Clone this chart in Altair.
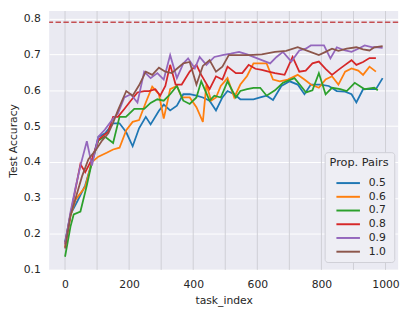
import altair as alt
import pandas as pd

series_names = ["0.5", "0.6", "0.7", "0.8", "0.9", "1.0"]
colors = ["#1f77b4", "#ff7f0e", "#2ca02c", "#d62728", "#9467bd", "#8c564b"]

x_05 = [0, 17, 38, 63, 84, 104, 125, 150, 170, 191, 211, 231, 252, 267, 293, 308, 328, 349, 369, 389, 410, 430, 451, 471, 491, 507, 528, 547, 568, 588, 609, 629, 649, 675, 701, 726, 747, 767, 797, 823, 848, 874, 894, 909, 930, 950, 970, 991]
y_05 = [0.177, 0.254, 0.29, 0.335, 0.40, 0.47, 0.48, 0.508, 0.508, 0.483, 0.444, 0.494, 0.526, 0.505, 0.543, 0.56, 0.544, 0.557, 0.589, 0.589, 0.585, 0.58, 0.571, 0.544, 0.58, 0.598, 0.589, 0.575, 0.575, 0.575, 0.58, 0.585, 0.573, 0.612, 0.625, 0.616, 0.589, 0.616, 0.616, 0.612, 0.598, 0.596, 0.589, 0.566, 0.603, 0.603, 0.603, 0.634]
ci_05 = [0, 0.01, 0, 0, 0, 0, 0, 0, 0, 0, 0, 0.04, 0.045, 0.045, 0.04, 0.04, 0.04, 0.03, 0, 0, 0, 0, 0, 0, 0.02, 0.02, 0.02, 0.02, 0, 0, 0, 0, 0, 0, 0, 0, 0, 0, 0, 0, 0.015, 0.015, 0, 0, 0.02, 0.02, 0, 0]

x_06 = [0, 17, 33, 63, 84, 104, 130, 150, 170, 191, 211, 231, 252, 272, 293, 308, 328, 349, 364, 389, 410, 430, 441, 456, 471, 486, 507, 528, 547, 568, 588, 609, 629, 649, 670, 695, 726, 747, 767, 792, 813, 833, 853, 874, 894, 915, 930, 950, 970]
y_06 = [0.163, 0.25, 0.295, 0.331, 0.40, 0.415, 0.426, 0.435, 0.44, 0.489, 0.512, 0.517, 0.566, 0.61, 0.589, 0.521, 0.603, 0.612, 0.58, 0.58, 0.553, 0.512, 0.616, 0.571, 0.58, 0.612, 0.634, 0.58, 0.616, 0.64, 0.675, 0.675, 0.675, 0.63, 0.625, 0.63, 0.643, 0.63, 0.616, 0.607, 0.63, 0.639, 0.616, 0.652, 0.661, 0.655, 0.643, 0.666, 0.652]
ci_06 = [0, 0, 0, 0, 0, 0.03, 0.03, 0, 0, 0, 0, 0.015, 0, 0, 0, 0, 0, 0, 0, 0, 0, 0, 0, 0, 0, 0, 0, 0, 0, 0.02, 0.02, 0.01, 0, 0, 0, 0.03, 0.02, 0, 0, 0, 0, 0.02, 0.02, 0, 0, 0.015, 0.015, 0.01, 0]

x_07 = [0, 17, 27, 48, 68, 84, 104, 124, 150, 170, 190, 216, 247, 267, 288, 308, 328, 349, 369, 389, 410, 425, 451, 466, 486, 507, 533, 547, 568, 588, 609, 629, 655, 680, 716, 736, 752, 772, 792, 813, 833, 859, 879, 904, 935, 965, 976]
y_07 = [0.136, 0.22, 0.254, 0.262, 0.335, 0.40, 0.46, 0.471, 0.453, 0.526, 0.526, 0.548, 0.548, 0.565, 0.575, 0.571, 0.589, 0.612, 0.571, 0.562, 0.58, 0.625, 0.571, 0.585, 0.58, 0.625, 0.58, 0.598, 0.603, 0.607, 0.607, 0.585, 0.60, 0.621, 0.634, 0.612, 0.594, 0.60, 0.648, 0.589, 0.607, 0.603, 0.598, 0.621, 0.603, 0.607, 0.60]
ci_07 = [0, 0.01, 0.01, 0, 0, 0, 0, 0.015, 0.02, 0, 0, 0, 0, 0, 0, 0, 0, 0, 0, 0, 0, 0, 0.03, 0.03, 0, 0.02, 0, 0, 0, 0, 0, 0, 0, 0, 0, 0.03, 0.03, 0, 0, 0, 0, 0, 0, 0.02, 0.02, 0, 0]

x_08 = [0, 17, 48, 63, 84, 104, 135, 150, 165, 185, 205, 226, 247, 262, 282, 297, 313, 328, 345, 364, 389, 410, 425, 451, 471, 491, 507, 533, 553, 573, 594, 614, 635, 655, 685, 710, 731, 751, 772, 792, 813, 833, 853, 874, 894, 909, 930, 950, 970]
y_08 = [0.172, 0.254, 0.394, 0.372, 0.408, 0.462, 0.485, 0.526, 0.526, 0.548, 0.571, 0.594, 0.598, 0.598, 0.603, 0.585, 0.612, 0.671, 0.616, 0.616, 0.652, 0.671, 0.643, 0.603, 0.639, 0.63, 0.666, 0.648, 0.648, 0.671, 0.66, 0.657, 0.652, 0.648, 0.643, 0.693, 0.652, 0.655, 0.675, 0.68, 0.66, 0.643, 0.657, 0.671, 0.684, 0.671, 0.679, 0.69, 0.69]
ci_08 = [0, 0.01, 0, 0, 0, 0, 0, 0, 0, 0, 0, 0.01, 0.01, 0, 0, 0, 0, 0, 0, 0, 0, 0, 0, 0, 0, 0, 0, 0, 0, 0, 0, 0, 0, 0, 0, 0, 0, 0.02, 0.025, 0.025, 0, 0, 0, 0.02, 0.02, 0, 0, 0, 0.02]

x_09 = [0, 17, 33, 48, 68, 84, 104, 124, 150, 165, 185, 205, 226, 247, 267, 288, 308, 328, 349, 369, 384, 405, 420, 441, 466, 491, 517, 543, 568, 588, 614, 640, 660, 680, 706, 731, 751, 767, 787, 808, 828, 848, 874, 894, 915, 935, 960, 976, 991]
y_09 = [0.17, 0.26, 0.33, 0.39, 0.458, 0.39, 0.471, 0.49, 0.521, 0.535, 0.58, 0.589, 0.566, 0.652, 0.634, 0.648, 0.63, 0.698, 0.634, 0.675, 0.689, 0.661, 0.693, 0.671, 0.693, 0.698, 0.702, 0.707, 0.70, 0.693, 0.684, 0.675, 0.693, 0.707, 0.68, 0.711, 0.716, 0.725, 0.725, 0.725, 0.689, 0.72, 0.711, 0.707, 0.716, 0.725, 0.72, 0.72, 0.718]
ci_09 = [0, 0.01, 0, 0, 0.02, 0.045, 0, 0, 0, 0, 0, 0, 0.02, 0.02, 0.02, 0, 0, 0, 0, 0, 0, 0, 0.02, 0.02, 0.02, 0.02, 0.02, 0, 0, 0, 0, 0, 0, 0.02, 0.02, 0, 0, 0, 0, 0, 0.02, 0, 0, 0, 0, 0.01, 0, 0, 0]

x_10 = [0, 17, 33, 53, 73, 94, 114, 135, 150, 165, 191, 211, 231, 252, 272, 293, 313, 333, 349, 369, 389, 410, 430, 451, 471, 491, 511, 543, 573, 614, 655, 690, 726, 757, 792, 813, 833, 853, 879, 909, 930, 950, 965, 991]
y_10 = [0.159, 0.25, 0.299, 0.36, 0.408, 0.431, 0.458, 0.48, 0.51, 0.544, 0.598, 0.585, 0.614, 0.652, 0.643, 0.663, 0.652, 0.648, 0.66, 0.675, 0.679, 0.616, 0.668, 0.684, 0.652, 0.666, 0.698, 0.698, 0.698, 0.70, 0.707, 0.71, 0.72, 0.71, 0.698, 0.707, 0.716, 0.71, 0.716, 0.72, 0.714, 0.711, 0.72, 0.723]
ci_10 = [0, 0.01, 0, 0, 0, 0, 0, 0, 0, 0, 0, 0, 0, 0.01, 0.01, 0, 0, 0, 0, 0, 0, 0.03, 0.03, 0.02, 0.02, 0, 0, 0, 0.01, 0.01, 0, 0, 0, 0, 0, 0, 0, 0, 0, 0, 0, 0, 0, 0]

task_lines = [0, 100, 200, 300, 400, 500, 600, 700, 800, 900, 1000]
upper_bound = [0.79]
x_ticks = [0, 200, 400, 600, 800, 1000]
y_ticks = [0.1, 0.2, 0.3, 0.4, 0.5, 0.6, 0.7, 0.8]

xs = [x_05, x_06, x_07, x_08, x_09, x_10]
ys = [y_05, y_06, y_07, y_08, y_09, y_10]
cis = [ci_05, ci_06, ci_07, ci_08, ci_09, ci_10]

rows = []
for name, xv, yv, cv in zip(series_names, xs, ys, cis):
    for i, (a, b, c) in enumerate(zip(xv, yv, cv)):
        rows.append({"task_index": a, "acc": b, "lo": b - c, "hi": b + c,
                     "pairs": name, "order": i})
df = pd.DataFrame(rows)

FONT = "DejaVu Sans"
xscale = alt.Scale(domain=[-49.5, 1039.5], nice=False, zero=False)
yscale = alt.Scale(domain=[0.0995, 0.821], nice=False, zero=False)
cscale = alt.Scale(domain=series_names, range=colors)

legend = alt.Legend(orient="none", legendX=281, legendY=144,
                    symbolType="M-0.25,0H2.75", symbolSize=256, symbolOpacity=1,
                    symbolStrokeWidth=2, rowPadding=0,
                    padding=5, fillColor="#EEEEF4",
                    strokeColor="#cfcfd6", cornerRadius=3,
                    titleFontWeight="normal", titleFontSize=11.5,
                    labelFontSize=11, titleColor="#262626",
                    labelColor="#262626", titleFont=FONT,
                    labelFont=FONT, labelOffset=22, titlePadding=6)
color = alt.Color("pairs:N", scale=cscale, title="Prop. Pairs", legend=legend)

xaxis = alt.Axis(values=x_ticks, grid=False, format="d", labelOverlap=False)
yaxis = alt.Axis(values=y_ticks, format=".1f", labelOverlap=False)

vl = alt.Chart(pd.DataFrame({"v": task_lines})).mark_rule(
    color="#cfcfd5", strokeWidth=1
).encode(x=alt.X("v:Q", scale=xscale, axis=xaxis, title="task_index"))

bands = alt.Chart(df).mark_area(opacity=0.3).encode(
    x=alt.X("task_index:Q", scale=xscale, axis=xaxis, title="task_index"),
    y=alt.Y("lo:Q", scale=yscale, axis=yaxis, title="Test Accuracy"),
    y2="hi:Q",
    color=color,
    order="order:Q",
)

lines = alt.Chart(df).mark_line(strokeWidth=1.8).encode(
    x=alt.X("task_index:Q", scale=xscale, axis=xaxis, title="task_index"),
    y=alt.Y("acc:Q", scale=yscale, axis=yaxis, title="Test Accuracy"),
    color=color, order="order:Q",
)

hl = alt.Chart(pd.DataFrame({"y": upper_bound})).mark_rule(
    color="#c44e52", strokeDash=[5.5, 2.5], strokeWidth=1.5
).encode(y=alt.Y("y:Q", scale=yscale, axis=yaxis, title="Test Accuracy"))

chart = alt.layer(vl, bands, lines, hl).properties(
    width=356, height=264,
    autosize=alt.AutoSizeParams(type="none"),
    padding={"left": 42, "top": 0, "right": 9, "bottom": 44},
).configure_view(
    fill="#EAEAF2", stroke=None
).configure_axis(
    gridColor="white", gridWidth=1, domain=False, ticks=False, tickSize=0,
    labelFont=FONT, titleFont=FONT, labelFontSize=11, titleFontSize=11,
    labelColor="#262626", titleColor="#262626", titleFontWeight="normal",
    labelPadding=9, titlePadding=5,
)

chart.save("out.html", embed_options={"renderer": "svg", "actions": False})
